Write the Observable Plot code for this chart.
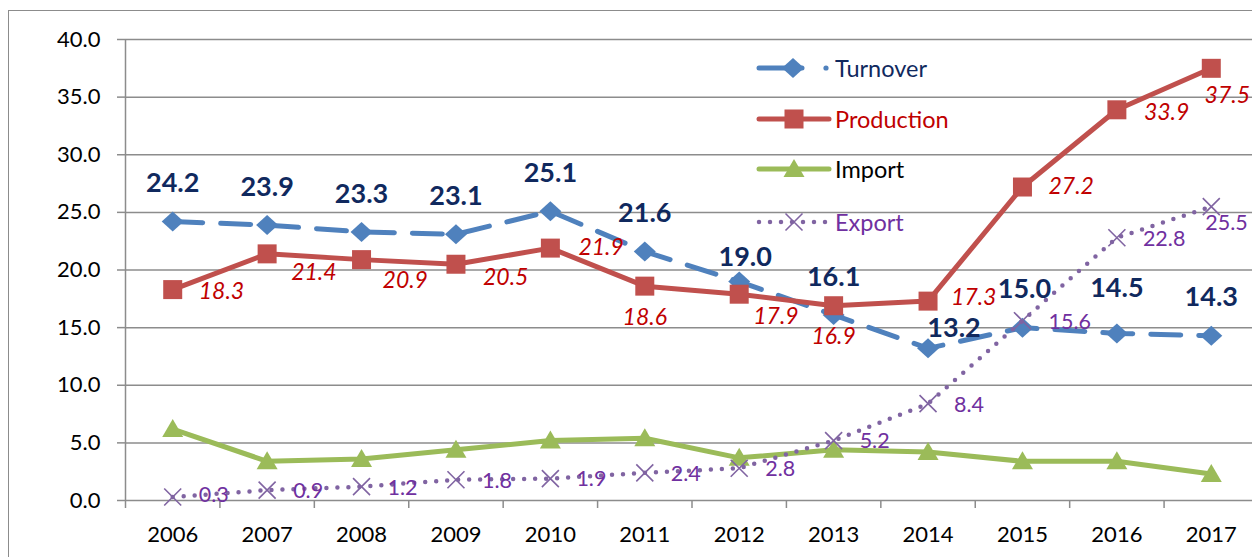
<!DOCTYPE html>
<html>
<head>
<meta charset="utf-8">
<script src="https://cdn.jsdelivr.net/npm/d3@7"></script>
<script src="https://cdn.jsdelivr.net/npm/@observablehq/plot@0.6"></script>
<style>
  html, body { margin: 0; padding: 0; background: #fff; overflow: hidden; }
  #wrap { position: relative; width: 1252px; height: 557px; overflow: hidden; font-family: Lato, "Open Sans", sans-serif; }
  #border { position: absolute; left: 8px; top: 10px; width: 1400px; height: 700px; border: 1.5px solid #8c8c8c; box-sizing: border-box; }
  #chart { position: absolute; left: 0; top: 0; width: 1262px; }
  #chart svg { max-width: none !important; }
  #legend { position: absolute; left: 0; top: 0; width: 1252px; height: 557px; pointer-events: none; }
  .row { position: absolute; left: 756px; height: 30px; display: flex; align-items: center; font-size: 23.5px; }
  .row svg { display: block; margin-right: 3px; }
</style>
</head>
<body>
<div id="wrap">
  <div id="border"></div>
  <div id="chart"></div>
  <div id="legend"></div>
</div>
<script>
const years = [2006, 2007, 2008, 2009, 2010, 2011, 2012, 2013, 2014, 2015, 2016, 2017];
const turnover = [24.2, 23.9, 23.3, 23.1, 25.1, 21.6, 19.0, 16.1, 13.2, 15.0, 14.5, 14.3];
const production = [18.3, 21.4, 20.9, 20.5, 21.9, 18.6, 17.9, 16.9, 17.3, 27.2, 33.9, 37.5];
const importVals = [6.2, 3.4, 3.6, 4.4, 5.2, 5.4, 3.7, 4.4, 4.2, 3.4, 3.4, 2.3];
const exportVals = [0.3, 0.9, 1.2, 1.8, 1.9, 2.4, 2.8, 5.2, 8.4, 15.6, 22.8, 25.5];
const yTicks = [0, 5, 10, 15, 20, 25, 30, 35, 40];
const seriesNames = ["Turnover", "Production", "Import", "Export"];

const C = {
  turnover: "#4F81BD", turnoverLabel: "#10295E",
  production: "#C0504D", productionLabel: "#C00000",
  import: "#9BBB59", importLabel: "#000000",
  export: "#8064A2", exportLabel: "#7030A0",
  grid: "#8c8c8c"
};

// custom marker shapes
const diamondSym = {draw(ctx) { const w = 11, h = 10; ctx.moveTo(0, -h); ctx.lineTo(w, 0); ctx.lineTo(0, h); ctx.lineTo(-w, 0); ctx.closePath(); }};
const squareSym = {draw(ctx) { const s = 9.5; ctx.moveTo(-s, -s); ctx.lineTo(s, -s); ctx.lineTo(s, s); ctx.lineTo(-s, s); ctx.closePath(); }};
const triangleSym = {draw(ctx) { ctx.moveTo(0, -10); ctx.lineTo(10.5, 8); ctx.lineTo(-10.5, 8); ctx.closePath(); }};
const timesSym = {draw(ctx) { const s = 8.5; ctx.moveTo(-s, -s); ctx.lineTo(s, s); ctx.moveTo(s, -s); ctx.lineTo(-s, s); }};

const rows = years.map((year, i) => ({
  year, turnover: turnover[i], production: production[i], imp: importVals[i], exp: exportVals[i]
}));

// label placement (style) per year
const turnoverPlace = {2012: [6, -24], 2014: [26, -20], 2015: [2, -38], 2016: [0, -45]};
const productionPlace = {
  2006: ["start", 26, 2], 2007: ["start", 24, 19], 2008: ["start", 21, 21], 2009: ["start", 27, 13],
  2010: ["start", 28, 0], 2011: ["middle", 0, 31], 2012: ["start", 14, 22], 2013: ["middle", 0, 31],
  2014: ["start", 23, -3], 2015: ["start", 26, 0], 2016: ["start", 27, 3], 2017: ["middle", 16, 27]
};
const exportPlace = {2006: [26, -2], 2017: [-6, 16]};

const fmt = d3.format(".1f");
const marks = [
  Plot.gridY(yTicks, {stroke: C.grid, strokeOpacity: 1, strokeWidth: 1.5}),
  Plot.ruleX([2005.5], {stroke: C.grid, strokeWidth: 1.5}),
  Plot.axisY(yTicks, {tickSize: 8, tickPadding: 17, tickFormat: fmt, fontSize: 22, stroke: C.grid, strokeWidth: 1.5, fill: "#000", label: null}),
  Plot.axisX(d3.range(2005.5, 2018, 1), {tickSize: 8, tickFormat: () => "", stroke: C.grid, strokeWidth: 1.5, label: null}),
  Plot.axisX(years, {tickSize: 0, tickPadding: 26, tickFormat: d3.format("d"), fontSize: 22, fill: "#000", label: null}),

  Plot.line(rows, {x: "year", y: "turnover", stroke: C.turnover, strokeWidth: 5, strokeDasharray: "30,18", strokeLinecap: "round"}),
  Plot.dot(rows, {x: "year", y: "turnover", symbol: diamondSym, fill: C.turnover, stroke: "none"}),

  Plot.line(rows, {x: "year", y: "production", stroke: C.production, strokeWidth: 5, strokeLinecap: "round"}),
  Plot.dot(rows, {x: "year", y: "production", symbol: squareSym, fill: C.production, stroke: "none"}),

  Plot.line(rows, {x: "year", y: "imp", stroke: C.import, strokeWidth: 5, strokeLinecap: "round"}),
  Plot.dot(rows, {x: "year", y: "imp", symbol: triangleSym, fill: C.import, stroke: "none"}),

  Plot.line(rows, {x: "year", y: "exp", stroke: C.export, strokeWidth: 4.5, strokeDasharray: "0,11", strokeLinecap: "round"}),
  Plot.dot(rows, {x: "year", y: "exp", symbol: timesSym, fill: "none", stroke: C.export, strokeWidth: 1.6})
];

rows.forEach(r => {
  const tp = turnoverPlace[r.year] || [0, -38];
  marks.push(Plot.text([r], {x: "year", y: "turnover", text: d => fmt(d.turnover), dx: tp[0], dy: tp[1],
    fill: C.turnoverLabel, fontSize: 27, fontWeight: "bold"}));
  const pp = productionPlace[r.year];
  marks.push(Plot.text([r], {x: "year", y: "production", text: d => fmt(d.production), textAnchor: pp[0], dx: pp[1], dy: pp[2],
    fill: C.productionLabel, fontSize: 23, fontStyle: "italic"}));
  const ep = exportPlace[r.year] || [26, 1];
  marks.push(Plot.text([r], {x: "year", y: "exp", text: d => fmt(d.exp), textAnchor: "start", dx: ep[0], dy: ep[1],
    fill: C.exportLabel, fontSize: 21.5}));
});

const chart = Plot.plot({
  width: 1262, height: 557,
  marginLeft: 125, marginRight: 4, marginTop: 39, marginBottom: 57,
  x: {type: "linear", domain: [2005.5, 2017.5]},
  y: {domain: [0, 40]},
  style: {fontFamily: "Lato, 'Open Sans', sans-serif", background: "transparent", overflow: "visible", maxWidth: "none"},
  marks
});
chart.style.maxWidth = "none";
document.getElementById("chart").appendChild(chart);

// legend (inside plot area, top right)
const sw = {
  Turnover: `<svg width="76" height="30"><line x1="3" y1="15" x2="46" y2="15" stroke="${C.turnover}" stroke-width="5" stroke-linecap="round"/><path d="M37,5 L48,15 L37,25 L26,15 Z" fill="${C.turnover}"/><circle cx="70" cy="15" r="2.6" fill="${C.turnover}"/></svg>`,
  Production: `<svg width="76" height="30"><line x1="3" y1="15" x2="73" y2="15" stroke="${C.production}" stroke-width="5" stroke-linecap="round"/><rect x="28.5" y="5.5" width="19" height="19" fill="${C.production}"/></svg>`,
  Import: `<svg width="76" height="30"><line x1="3" y1="15" x2="73" y2="15" stroke="${C.import}" stroke-width="5" stroke-linecap="round"/><path d="M38,5 L48.5,23 L27.5,23 Z" fill="${C.import}"/></svg>`,
  Export: `<svg width="76" height="30"><line x1="3" y1="15" x2="73" y2="15" stroke="${C.export}" stroke-width="4.5" stroke-dasharray="0,11" stroke-linecap="round"/><path d="M29.5,6.5 L46.5,23.5 M46.5,6.5 L29.5,23.5" stroke="${C.export}" stroke-width="1.6"/></svg>`
};
const legendColors = {Turnover: C.turnoverLabel, Production: C.productionLabel, Import: C.importLabel, Export: C.exportLabel};
const legendY = {Turnover: 53, Production: 104, Import: 154, Export: 207};
const leg = document.getElementById("legend");
seriesNames.forEach(name => {
  const row = document.createElement("div");
  row.className = "row";
  row.style.top = legendY[name] + "px";
  row.innerHTML = sw[name] + `<span style="color:${legendColors[name]}">${name}</span>`;
  leg.appendChild(row);
});
</script>
</body>
</html>
